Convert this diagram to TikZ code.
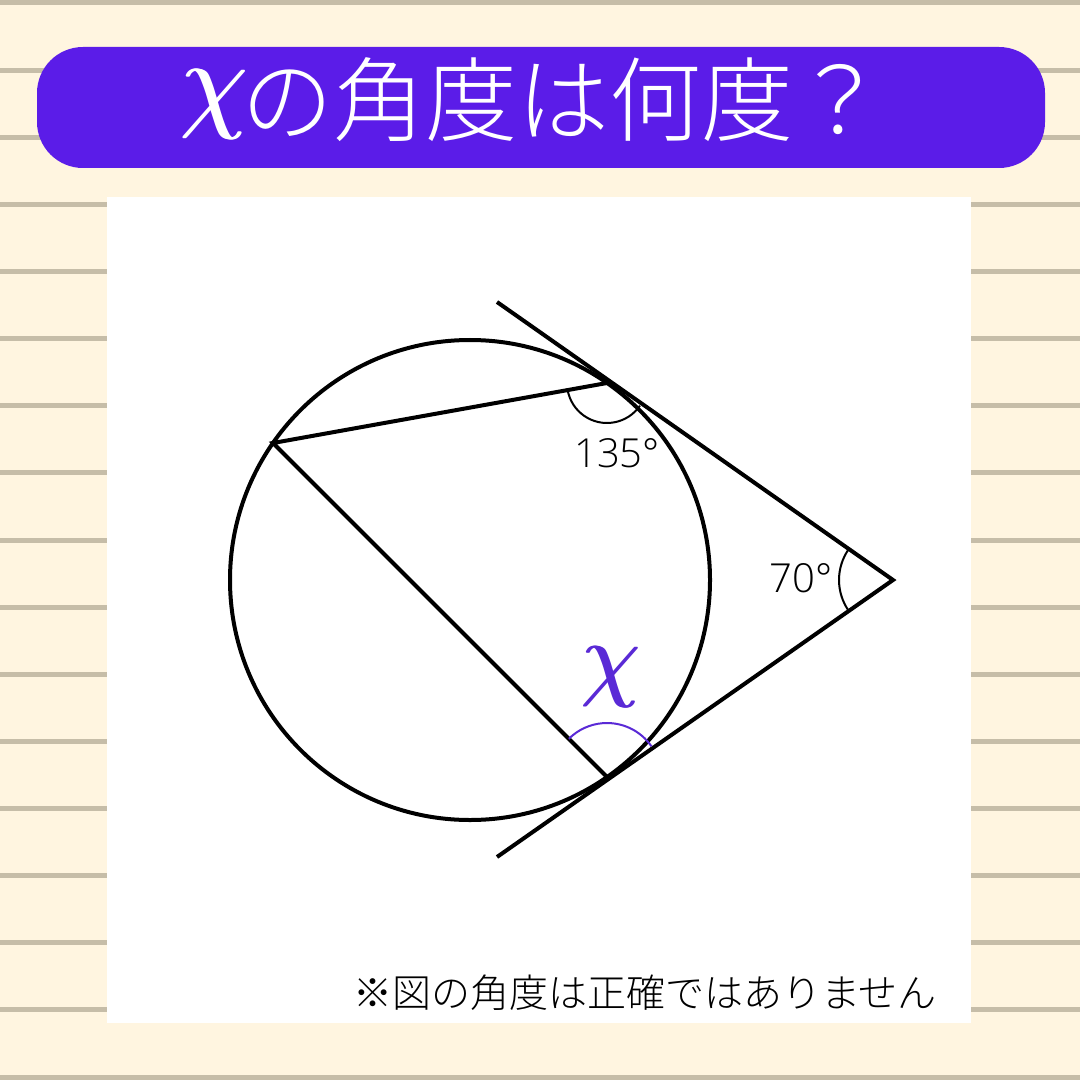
\RequirePackage{fix-cm}
\documentclass[tikz,border=0pt]{standalone}
\usepackage{fontspec}
\newfontfamily\jp{Noto Sans CJK JP Light}
\newfontfamily\numf{Open Sans Light}
\definecolor{cream}{HTML}{FFF5E0}
\definecolor{rule}{HTML}{C6BDA8}
\definecolor{titlepurple}{HTML}{5B1CE8}
\definecolor{chipurple}{HTML}{5A2AD6}
\newcommand{\bigchi}[1]{{\fontsize{#1}{#1}\selectfont$\chi$}}
\begin{document}
\begin{tikzpicture}[x=0.5pt,y=-0.5pt,
  geo/.style={line width=2pt,black},
  anglearc/.style={line width=1pt,black},
  xarc/.style={line width=1pt,chipurple},
  lbl/.style={font=\numf\fontsize{20}{24}\selectfont,inner sep=0pt}]
\useasboundingbox (0,0) rectangle (1080,1080);
\fill[cream] (0,0) rectangle (1080,1080);
\foreach \k in {0,...,16}
  \fill[rule] (0,{0.5+67.125*\k}) rectangle (1080,{5.5+67.125*\k});
% title bar
\fill[titlepurple,rounded corners=23pt] (37,47) rectangle (1045,168);
\foreach \dx/\nm in {-1.2/titlechiA,0/titlechi,1.2/titlechiB}
  \node[text=white,inner sep=0pt,anchor=base] (\nm) at (214+\dx,118) {\bigchi{55}};
\node[text=white,inner sep=0pt,anchor=base west] (title) at (241,135)
  {\jp\fontsize{46}{50}\selectfont の角度は何度？};
% panel
\fill[white] (107,197) rectangle (971,1023);
% geometry
\coordinate (O) at (470,580);
\coordinate (A) at (607,383);
\coordinate (B) at (273,443);
\coordinate (C) at (607,777);
\coordinate (P) at (893,580);
\coordinate (T1) at (497,302);
\coordinate (T2) at (497,857);
\draw[geo] (O) circle (120pt);
\draw[geo] (T1) -- (P) -- (T2);
\draw[geo] (A) -- (B) -- (C);
% angle arcs
\draw[anglearc] (A) ++(190.2:20pt) arc[start angle=190.2,end angle=325.4,radius=20pt];
\draw[anglearc] (P) ++(145.4:27pt) arc[start angle=145.4,end angle=214.6,radius=27pt];
\draw[xarc] (C) ++(34.6:27pt) arc[start angle=34.6,end angle=135,radius=27pt];
% labels
\node[lbl] (l135) at (617,453) {135°};
\node[lbl] (l70) at (801,578) {70°};
\foreach \dx/\nm in {-1.2/lxA,0/lx,1.2/lxB}
  \node[text=chipurple,inner sep=0pt] (\nm) at (611+\dx,677) {\bigchi{48}};
\node[inner sep=0pt] (note) at (645,993) {\jp\fontsize{19.5}{22}\selectfont ※図の角度は正確ではありません};
\end{tikzpicture}
\end{document}
